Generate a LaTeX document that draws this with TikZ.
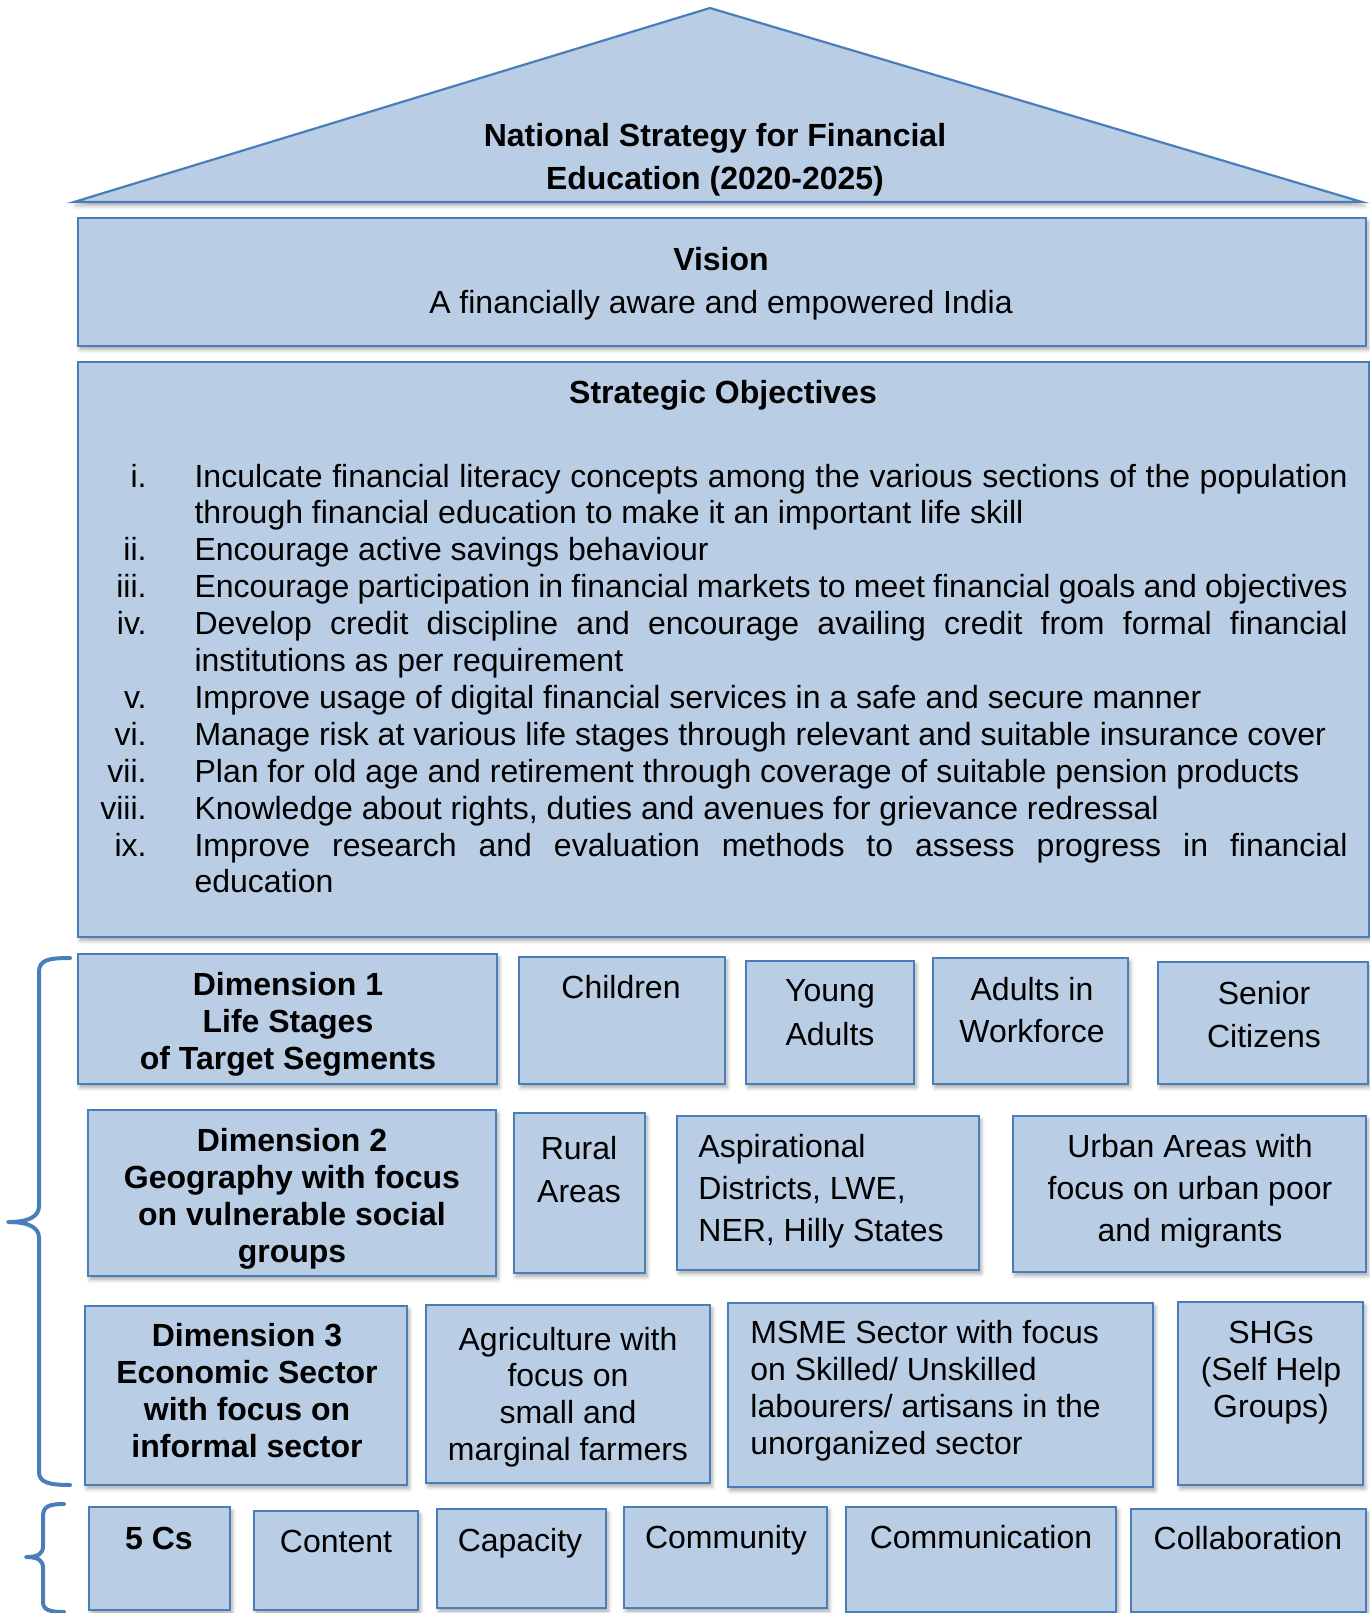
\documentclass[tikz,border=0pt]{standalone}
\usepackage{fontspec}
\setmainfont{Liberation Sans}
\usepackage{array}
\usetikzlibrary{fit,shadows.blur}
\definecolor{boxfill}{HTML}{B9CDE5}
\definecolor{boxline}{HTML}{4A7EBB}
\newcommand\mlc[1]{\begin{tabular}[t]{@{}c@{}}#1\end{tabular}}
\newcommand\mll[1]{\begin{tabular}[t]{@{}l@{}}#1\end{tabular}}
\tikzset{
  boxstyle/.style={draw=boxline, fill=boxfill, line width=1.1pt, inner sep=0pt, outer sep=0pt,
    blur shadow={shadow xshift=1pt, shadow yshift=-1.8pt, shadow blur steps=6, shadow opacity=35, shadow blur radius=2pt}},
  lbl/.style={inner sep=0pt, anchor=base, font=\fontsize{16}{#1}\selectfont},
  lbl/.default={18.5},
  bracestyle/.style={draw=boxline, line width=2pt, line cap=round, line join=round}
}
\begin{document}
\begin{tikzpicture}[x=0.5pt,y=-0.5pt]
\useasboundingbox (0,0) rectangle (1370,1613);
% roof
\path[boxstyle] (74,202) -- (710,8) -- (1362,202) -- cycle;
\node[lbl=21.5] (title) at (715,146) {\bfseries\mlc{National Strategy for Financial\\Education (2020-2025)}};
% vision
\node[boxstyle, fit={(78,218) (1366,346)}] (vision) {};
\node[lbl=21.5] (visiont) at (721,270) {\mlc{\textbf{Vision}\\A financially aware and empowered India}};
% objectives
\node[boxstyle, fit={(78,362) (1369,937)}] (obj) {};
\node[lbl] (objt) at (723,403) {\bfseries Strategic Objectives};
\node[lbl=18.45, anchor=base east] (objlist) at (1348,487) {\begin{tabular}[t]{@{}r@{\hspace{24pt}}p{576.5pt}@{}}
i. & Inculcate financial literacy concepts among the various sections of the population\linebreak through financial education to make it an important life skill\\
ii. & Encourage active savings behaviour\\
iii. & Encourage participation in financial markets to meet financial goals and objectives\\
iv. & Develop credit discipline and encourage availing credit from formal financial\linebreak institutions as per requirement\\
v. & Improve usage of digital financial services in a safe and secure manner\\
vi. & Manage risk at various life stages through relevant and suitable insurance cover\\
vii. & Plan for old age and retirement through coverage of suitable pension products\\
viii. & Knowledge about rights, duties and avenues for grievance redressal\\
ix. & Improve research and evaluation methods to assess progress in financial\linebreak education
\end{tabular}};
% row 1
\node[boxstyle, fit={(78,954) (497,1084)}] (d1) {};
\node[lbl=18.5] (d1t) at (288,995) {\bfseries\mlc{Dimension 1\\Life Stages\\of Target Segments}};
\node[boxstyle, fit={(519,957) (725,1084)}] (children) {};
\node[lbl] (childrent) at (621,998) {Children};
\node[boxstyle, fit={(746,961) (914,1084)}] (young) {};
\node[lbl=22] (youngt) at (830,1001) {\mlc{Young\\Adults}};
\node[boxstyle, fit={(933,958) (1128,1084)}] (adults) {};
\node[lbl=21] (adultst) at (1032,1000) {\mlc{Adults in\\Workforce}};
\node[boxstyle, fit={(1158,962) (1368,1084)}] (senior) {};
\node[lbl=21.5] (seniort) at (1264,1004) {\mlc{Senior\\Citizens}};
% row 2
\node[boxstyle, fit={(88,1110) (496,1276)}] (d2) {};
\node[lbl=18.5] (d2t) at (292,1151) {\bfseries\mlc{Dimension 2\\Geography with focus\\on vulnerable social\\groups}};
\node[boxstyle, fit={(514,1113) (645,1273)}] (rural) {};
\node[lbl=21.5] (ruralt) at (579,1159) {\mlc{Rural\\Areas}};
\node[boxstyle, fit={(677,1116) (979,1270)}] (asp) {};
\node[lbl=21, anchor=base west] (aspt) at (698,1157) {\mll{Aspirational\\Districts, LWE,\\NER, Hilly States}};
\node[boxstyle, fit={(1013,1116) (1366,1272)}] (urban) {};
\node[lbl=21] (urbant) at (1190,1157) {\mlc{Urban Areas with\\focus on urban poor\\and migrants}};
% row 3
\node[boxstyle, fit={(85,1306) (407,1485)}] (d3) {};
\node[lbl=18.5] (d3t) at (247,1346) {\bfseries\mlc{Dimension 3\\Economic Sector\\with focus on\\informal sector}};
\node[boxstyle, fit={(426,1305) (710,1483)}] (agri) {};
\node[lbl=18.35] (agrit) at (568,1350) {\mlc{Agriculture with\\focus on\\small and\\marginal farmers}};
\node[boxstyle, fit={(728,1303) (1153,1487)}] (msme) {};
\node[lbl=18.5, anchor=base west] (msmet) at (750,1343) {\mll{MSME Sector with focus\\on Skilled/ Unskilled\\labourers/ artisans in the\\unorganized sector}};
\node[boxstyle, fit={(1178,1302) (1363,1485)}] (shg) {};
\node[lbl=18.5] (shgt) at (1271,1343) {\mlc{SHGs\\(Self Help\\Groups)}};
% row 4
\node[boxstyle, fit={(89,1507) (230,1610)}] (c5) {};
\node[lbl] (c5t) at (159,1549) {\bfseries 5 Cs};
\node[boxstyle, fit={(254,1511) (418,1610)}] (content) {};
\node[lbl] (contentt) at (336,1552) {Content};
\node[boxstyle, fit={(437,1509) (606,1608)}] (capacity) {};
\node[lbl] (capacityt) at (520,1551) {Capacity};
\node[boxstyle, fit={(624,1507) (827,1608)}] (community) {};
\node[lbl] (communityt) at (726,1548) {Community};
\node[boxstyle, fit={(846,1507) (1116,1612)}] (communication) {};
\node[lbl] (communicationt) at (981,1548) {Communication};
\node[boxstyle, fit={(1131,1509) (1366,1612)}] (collab) {};
\node[lbl] (collabt) at (1248,1549) {Collaboration};
% braces
\draw[bracestyle] (70,958) .. controls (48,958) and (39,960) .. (39,972) -- (39,1206)
  .. controls (39,1216) and (30,1222) .. (8,1222)
  .. controls (30,1222) and (39,1228) .. (39,1238) -- (39,1472)
  .. controls (39,1482) and (48,1485) .. (70,1485);
\draw[bracestyle] (64,1504) .. controls (50,1504) and (43,1506) .. (43,1516) -- (43,1546)
  .. controls (43,1554) and (38,1557) .. (26,1557)
  .. controls (38,1557) and (43,1560) .. (43,1568) -- (43,1602)
  .. controls (43,1610) and (50,1612) .. (64,1612);
\end{tikzpicture}
\end{document}
